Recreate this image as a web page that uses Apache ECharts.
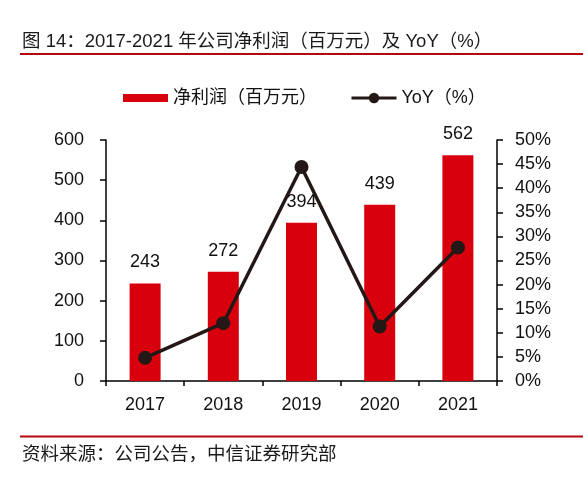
<!DOCTYPE html>
<html><head><meta charset="utf-8">
<script src="https://cdn.jsdelivr.net/npm/echarts@6/dist/echarts.min.js"></script>
<style>html,body{margin:0;padding:0;background:#fff}#c{width:588px;height:477px}</style>
</head><body><div id="c"></div>
<script>
var categories = ['2017','2018','2019','2020','2021'];
var netProfit = [243, 272, 394, 439, 562];
var yoy = [4.8, 12.0, 44.4, 11.3, 27.7];
var leftTicks = [0,100,200,300,400,500,600];
var rightTicks = [0,5,10,15,20,25,30,35,40,45,50];

var FONT = '"Liberation Sans", Arial, "Noto Sans CJK SC", sans-serif';
var chart = echarts.init(document.getElementById('c'));
chart.setOption({
  animation: false,
  backgroundColor: '#fff',
  textStyle: {fontFamily: FONT},
  graphic: [
    {type:'text', left:22, top:33, style:{text:'图 14：2017-2021 年公司净利润（百万元）及 YoY（%）', font:'18.5px '+FONT, fill:'#1a1a1a'}},
    {type:'rect', shape:{x:20,y:53,width:563,height:2}, style:{fill:'#b5070f'}},
    {type:'rect', shape:{x:20,y:435.5,width:563,height:2}, style:{fill:'#b5070f'}},
    {type:'text', left:22, top:446, style:{text:'资料来源：公司公告，中信证券研究部', font:'18.5px '+FONT, fill:'#1a1a1a'}}
  ],
  legend: [
    {left: 118, top: 84, itemWidth: 45, itemHeight: 8, itemGap: 10,
     textStyle: {fontSize: 18, color: '#111'},
     data: [{name:'净利润（百万元）', icon:'rect'}]},
    {left: 345, top: 84, itemWidth: 45, itemHeight: 13, itemGap: 10,
     textStyle: {fontSize: 18, color: '#111'},
     lineStyle: {width: 3},
     data: [{name:'YoY（%）'}]}
  ],
  grid: {left: 106, right: 91, top: 140, bottom: 96},
  xAxis: {
    type: 'category', data: categories,
    axisLine: {lineStyle: {color: '#000', width: 1.5}},
    axisTick: {show: true, length: 5, lineStyle:{color:'#000', width:1.5}},
    axisLabel: {fontSize: 18, color: '#111', margin: 15}
  },
  yAxis: [
    {type:'value', min:0, max:600, interval:100, position:'left',
     splitLine:{show:false},
     axisLine:{show:true, lineStyle:{color:'#000', width:1.5}},
     axisTick:{show:true, length:6, lineStyle:{color:'#000', width:1.5}},
     axisLabel:{fontSize:18, color:'#111', margin:22}},
    {type:'value', min:0, max:50, interval:5, position:'right',
     splitLine:{show:false},
     axisLine:{show:true, lineStyle:{color:'#000', width:1.5}},
     axisTick:{show:true, length:6, lineStyle:{color:'#000', width:1.5}},
     axisLabel:{fontSize:18, color:'#111', margin:18, formatter:'{value}%'}}
  ],
  series: [
    {name:'净利润（百万元）', type:'bar', data:netProfit, barWidth:31,
     itemStyle:{color:'#d9000d'},
     label:{show:true, position:'top', distance:12, fontSize:18, color:'#111'}},
    {name:'YoY（%）', type:'line', yAxisIndex:1, data:yoy,
     symbol:'circle', symbolSize:14, z:5,
     lineStyle:{color:'#231815', width:3.5},
     itemStyle:{color:'#231815'}}
  ]
});
</script></body></html>
